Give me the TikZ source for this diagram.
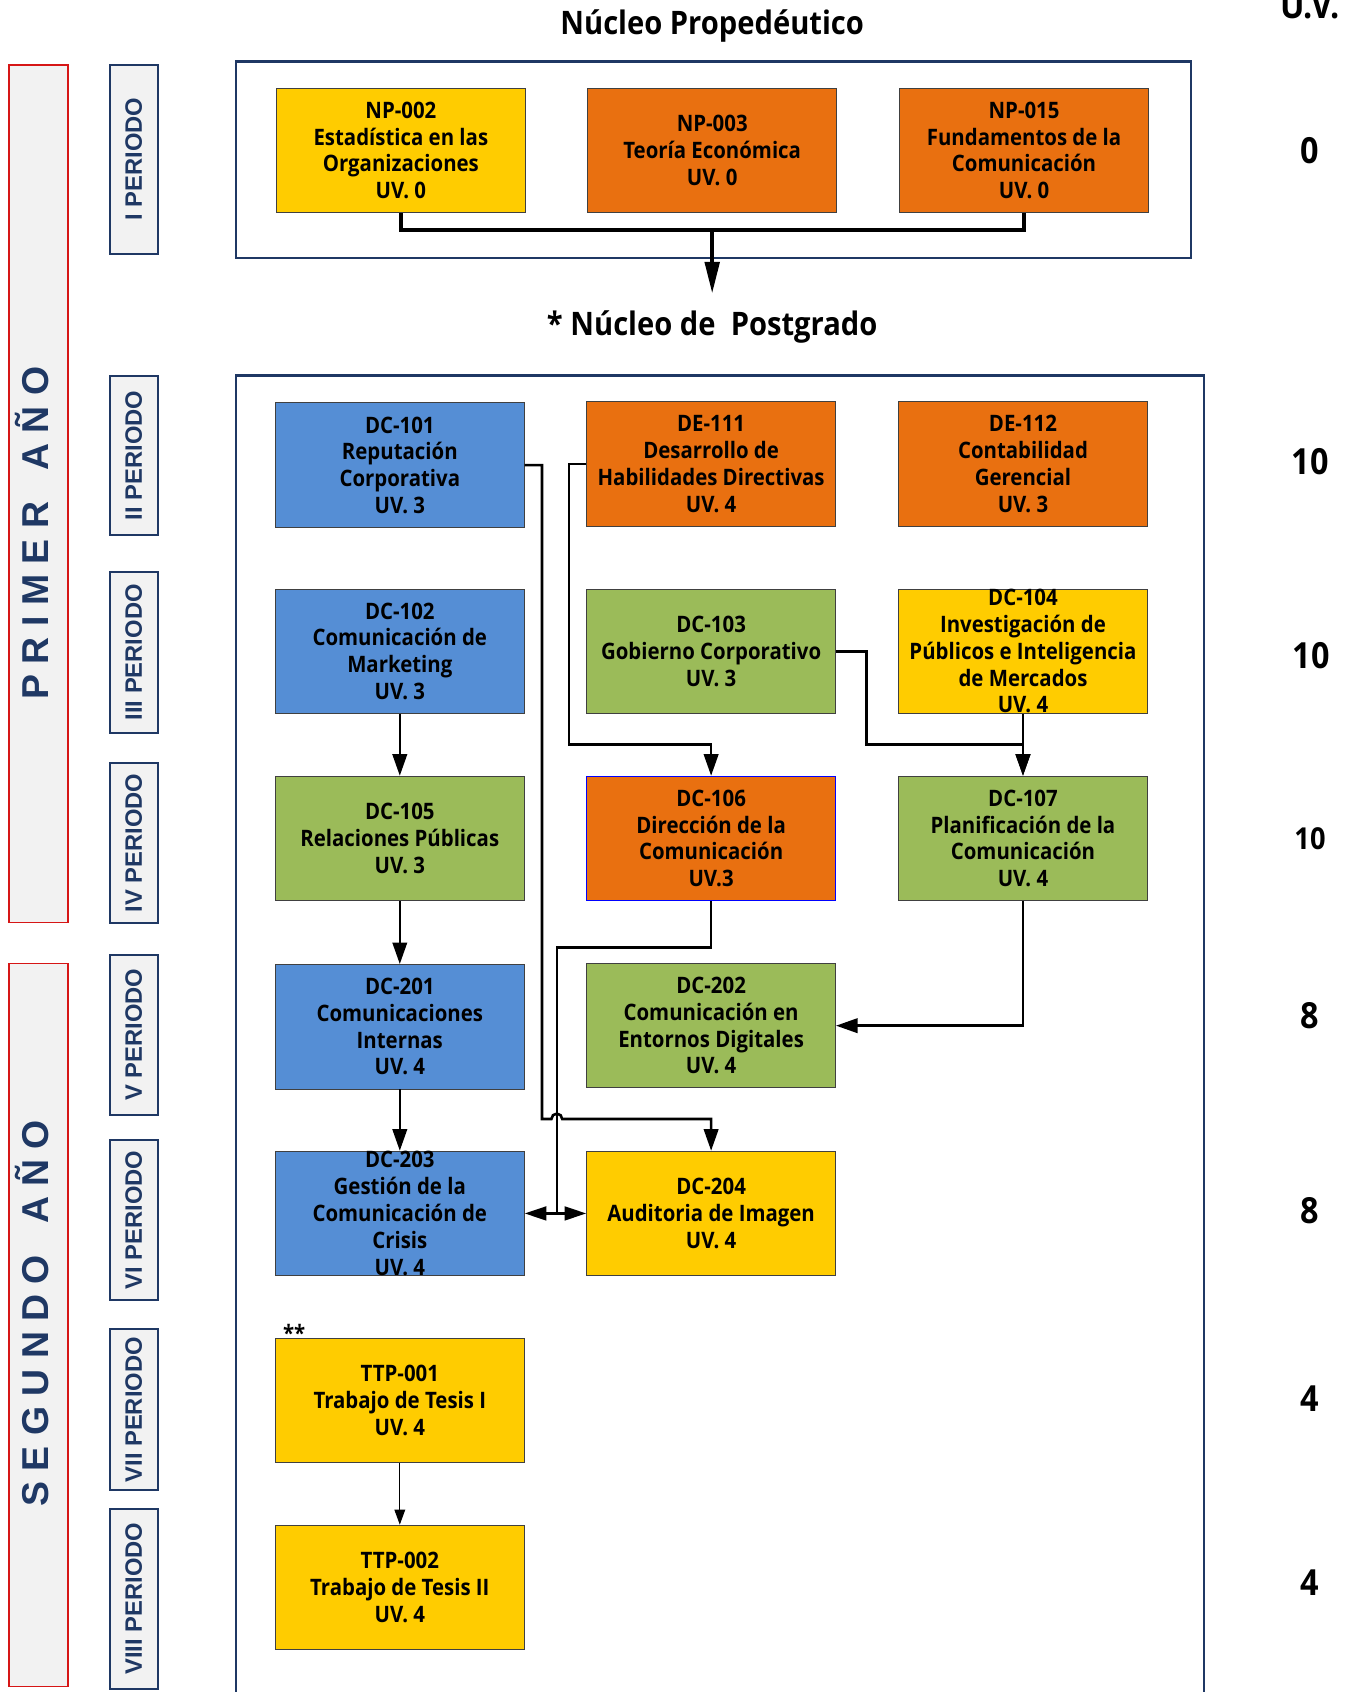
\documentclass[tikz,border=0pt]{standalone}
\usepackage{fontspec}
\usetikzlibrary{arrows.meta}

\newfontfamily\boxfont{Open Sans}[FakeStretch=0.9]
\newfontfamily\sidefont{Liberation Sans}

\definecolor{boxblue}{RGB}{85,142,213}
\definecolor{boxorange}{RGB}{233,112,16}
\definecolor{boxgreen}{RGB}{155,187,89}
\definecolor{boxyellow}{RGB}{255,204,0}
\definecolor{navy}{RGB}{31,56,100}
\definecolor{yearred}{RGB}{214,22,22}
\definecolor{sidegray}{RGB}{242,242,242}

\tikzset{
  course/.style={draw=black!75, line width=0.6pt, minimum width=173pt, minimum height=86.5pt,
    inner xsep=2pt, inner ysep=0pt, align=center,
    font=\boxfont\bfseries\fontsize{15.75}{18.6}\selectfont},
  periodbox/.style={draw=navy, line width=1.4pt, fill=sidegray, rotate=90, minimum height=33pt,
    inner sep=0pt, text=navy, font=\sidefont\bfseries\fontsize{16.5}{18}\selectfont},
  yearbox/.style={draw=yearred, line width=1.2pt, fill=sidegray, minimum width=41pt, inner sep=0pt},
  yeartext/.style={rotate=90, text=navy, inner sep=0pt, font=\sidefont\bfseries\fontsize{26}{30}\selectfont},
  heading/.style={inner sep=0pt, font=\boxfont\bfseries\fontsize{22.5}{26}\selectfont},
  uvtext/.style={inner sep=0pt, font=\boxfont\bfseries\fontsize{25}{28}\selectfont},
  frame/.style={draw=navy, line width=1.5pt},
  link/.style={line width=1.8pt},
  conn/.style={link, -{Triangle[length=15pt,width=10pt]}},
  thinconn/.style={line width=0.75pt, -{Triangle[length=10.5pt,width=7.5pt]}},
  topline/.style={line width=2.8pt}
}

\begin{document}
\begin{tikzpicture}[x=0.75pt,y=0.75pt,yscale=-1,xscale=1]
    \useasboundingbox (0,0) rectangle (1250,1568);

    % Headings
    \node[heading, anchor=base] (propedeutico) at (660,32) {Núcleo Propedéutico};
    \node[heading, anchor=base] (postgrado) at (660,311) {* Núcleo de\ \ Postgrado};
    \node[uvtext] (uvhead) at (1214,5) {U.V.};

    % Year boxes
    \node[yearbox, minimum height=596pt] (primer) at (35.5,457.5) {};
    \node[yeartext] (primertxt) at (30,494) {P R I M E R ~ A Ñ O};
    \node[yearbox, minimum height=502.5pt] (segundo) at (35.5,1228) {};
    \node[yeartext] (segundotxt) at (30,1217) {S E G U N D O ~ A Ñ O};

    % Period boxes
    \node[periodbox, minimum width=131.25pt] (p1) at (124,147.5) {I PERIODO};
    \node[periodbox, minimum width=111pt] (p2) at (124,422) {II PERIODO};
    \node[periodbox, minimum width=111.75pt] (p3) at (124,604.5) {III PERIODO};
    \node[periodbox, minimum width=111pt] (p4) at (124,781) {IV PERIODO};
    \node[periodbox, minimum width=111pt] (p5) at (124,959) {V PERIODO};
    \node[periodbox, minimum width=111.75pt] (p6) at (124,1130.5) {VI PERIODO};
    \node[periodbox, minimum width=111.75pt] (p7) at (124,1306.5) {VII PERIODO};
    \node[periodbox, minimum width=125.25pt] (p8) at (124,1481.5) {VIII PERIODO};

    % Frames
    \draw[frame] (219,57) rectangle (1104,239);
    \draw[frame] (219,1580) -- (219,348) -- (1116,348) -- (1116,1580);

    % Nucleo propedeutico
    \node[course, fill=boxyellow] (np002) at (371.5,139.5) {NP-002\\Estadística en las\\Organizaciones\\UV. 0};
    \node[course, fill=boxorange] (np003) at (660,139.5) {NP-003\\Teoría Económica\\UV. 0};
    \node[course, fill=boxorange] (np015) at (949,139.5) {NP-015\\Fundamentos de la\\Comunicación\\UV. 0};

    % I year
    \node[course, fill=boxblue] (dc101) at (370.5,431) {DC-101\\Reputación\\Corporativa\\UV. 3};
    \node[course, fill=boxorange] (de111) at (659,430) {DE-111\\Desarrollo de\\Habilidades Directivas\\UV. 4};
    \node[course, fill=boxorange] (de112) at (948,430) {DE-112\\Contabilidad\\Gerencial\\UV. 3};
    \node[course, fill=boxblue] (dc102) at (370.5,603.5) {DC-102\\Comunicación de\\Marketing\\UV. 3};
    \node[course, fill=boxgreen] (dc103) at (659,603.5) {DC-103\\Gobierno Corporativo\\UV. 3};
    \node[course, fill=boxyellow] (dc104) at (948,603.5) {DC-104\\Investigación de\\Públicos e Inteligencia\\de Mercados\\UV. 4};
    \node[course, fill=boxgreen] (dc105) at (370.5,777) {DC-105\\Relaciones Públicas\\UV. 3};
    \node[course, fill=boxorange, draw=blue] (dc106) at (659,777) {DC-106\\Dirección de la\\Comunicación\\UV.3};
    \node[course, fill=boxgreen] (dc107) at (948,777) {DC-107\\Planificación de la\\Comunicación\\UV. 4};

    % II year
    \node[course, fill=boxblue] (dc201) at (370.5,951.5) {DC-201\\Comunicaciones\\Internas\\UV. 4};
    \node[course, fill=boxgreen] (dc202) at (659,950.5) {DC-202\\Comunicación en\\Entornos Digitales\\UV. 4};
    \node[course, fill=boxblue] (dc203) at (370.5,1124.5) {DC-203\\Gestión de la\\Comunicación de\\Crisis\\UV. 4};
    \node[course, fill=boxyellow] (dc204) at (659,1124.5) {DC-204\\Auditoria de Imagen\\UV. 4};
    \node[anchor=base west, inner sep=0pt, font=\boxfont\bfseries\fontsize{15.75}{18.6}\selectfont] (stars) at (262,1243) {**};
    \node[course, fill=boxyellow] (ttp001) at (370.5,1298) {TTP-001\\Trabajo de Tesis I\\UV. 4};
    \node[course, fill=boxyellow] (ttp002) at (370.5,1471) {TTP-002\\Trabajo de Tesis II\\UV. 4};

    % U.V. per period
    \node[uvtext] (uv1) at (1214,140) {0};
    \node[uvtext] (uv2) at (1214,428) {10};
    \node[uvtext] (uv3) at (1215,608) {10};
    \node[uvtext, font=\boxfont\bfseries\fontsize{21}{24}\selectfont] (uv4) at (1214,777) {10};
    \node[uvtext] (uv5) at (1214,941) {8};
    \node[uvtext] (uv6) at (1214,1122) {8};
    \node[uvtext] (uv7) at (1214,1296) {4};
    \node[uvtext] (uv8) at (1214,1467) {4};

    % Connectors
    \coordinate (npjoin) at (660,213);
    \coordinate (pgtip) at (660,272);
    \draw[topline] (np002.south) |- (npjoin) -| (np015.south);
    \draw[topline, -{Triangle[length=22pt,width=10pt]}] (npjoin) -- (pgtip);

    \coordinate (hopL) at (511,1037);
    \coordinate (bendA) at (659,690);
    \coordinate (bendB) at (948,690);
    \coordinate (jC) at (516,1124.5);
    \draw[conn] (dc101.east) -- ++(16,0) |- (hopL) arc[start angle=180, end angle=360, radius=5] -| (dc204.north);
    \draw[conn] (de111.west) -- ++(-16,0) |- (bendA) -- (dc106.north);
    \draw[conn] (dc103.east) -- ++(28,0) |- (bendB) -- (dc107.north);
    \draw[conn] (dc104.south) -- (dc107.north);
    \draw[conn] (dc102.south) -- (dc105.north);
    \draw[conn] (dc105.south) -- (dc201.north);
    \draw[conn] (dc201.south) -- (dc203.north);
    \draw[link] (dc106.south) -- ++(0,43) -| (jC);
    \draw[link, {Triangle[length=15pt,width=9.5pt]}-{Triangle[length=15pt,width=9.5pt]}] (dc203.east) -- (dc204.west);
    \draw[conn] (dc107.south) |- (dc202.east);
    \draw[thinconn] (ttp001.south) -- (ttp002.north);
\end{tikzpicture}
\end{document}
